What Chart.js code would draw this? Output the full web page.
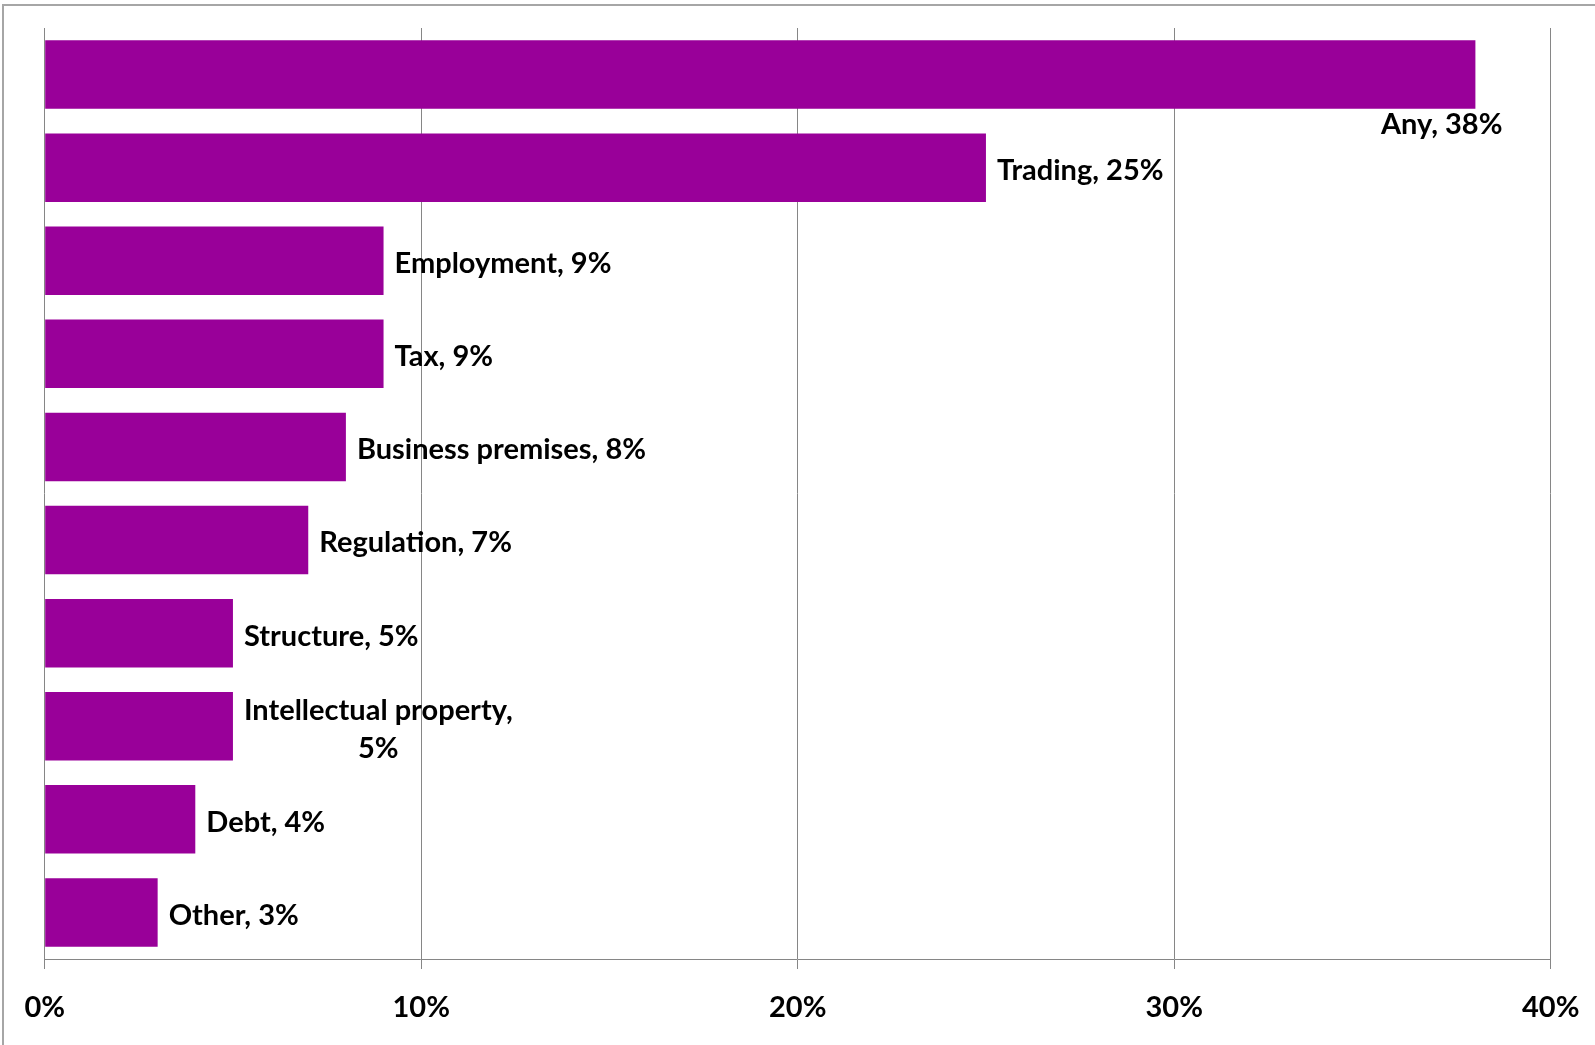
<!DOCTYPE html>
<html>
<head>
<meta charset="utf-8">
<script src="https://cdn.jsdelivr.net/npm/chart.js@4.4.0/dist/chart.umd.min.js"></script>
<style>
  html, body { margin: 0; padding: 0; background: #fff; overflow: hidden; }
  #frame { position: absolute; left: 2px; top: 4px; width: 1700px; height: 1200px; border: 2px solid #a6a6a6; box-sizing: border-box; }
  #wrap { position: absolute; left: 0; top: 0; width: 1595px; height: 1045px; }
</style>
</head>
<body>
<div id="frame"></div>
<div id="wrap"><canvas id="c" width="1595" height="1045"></canvas></div>
<script>
const categories = ['Any', 'Trading', 'Employment', 'Tax', 'Business premises', 'Regulation', 'Structure', 'Intellectual property', 'Debt', 'Other'];
const values = [38, 25, 9, 9, 8, 7, 5, 5, 4, 3];
const xTicks = [0, 10, 20, 30, 40];

const FONT = 'Lato, "Open Sans", sans-serif';
const FSIZE = 29;

const labelPlugin = {
  id: 'barLabels',
  afterDatasetsDraw(chart) {
    const ctx = chart.ctx;
    const meta = chart.getDatasetMeta(0);
    const area = chart.chartArea;
    ctx.save();
    ctx.font = 'bold ' + FSIZE + 'px ' + FONT;
    ctx.fillStyle = '#000';
    ctx.textBaseline = 'middle';
    meta.data.forEach((bar, i) => {
      const text = categories[i] + ', ' + values[i] + '%';
      const w = ctx.measureText(text).width;
      const x0 = bar.x + 11;
      const yc = bar.y + 3;
      if (x0 + w > area.right) {
        // does not fit: put below the bar end
        ctx.textAlign = 'right';
        ctx.fillText(text, bar.x + 27, bar.y + bar.height / 2 + 16);
      } else if (w > 300) {
        const l1 = categories[i] + ',';
        const l2 = values[i] + '%';
        const w1 = ctx.measureText(l1).width;
        ctx.textAlign = 'center';
        ctx.fillText(l1, x0 + w1 / 2, yc - 19);
        ctx.fillText(l2, x0 + w1 / 2, yc + 19);
      } else {
        ctx.textAlign = 'left';
        ctx.fillText(text, x0, yc);
      }
    });
    ctx.restore();
  }
};

new Chart(document.getElementById('c'), {
  type: 'bar',
  data: {
    labels: categories,
    datasets: [{
      data: values,
      backgroundColor: '#990099',
      borderWidth: 0,
      categoryPercentage: 1,
      barPercentage: 0.736
    }]
  },
  options: {
    indexAxis: 'y',
    responsive: false,
    animation: false,
    layout: { padding: { left: 44.7, top: 28, right: 44.3, bottom: 0 } },
    plugins: { legend: { display: false }, tooltip: { enabled: false } },
    scales: {
      x: {
        min: 0, max: 40,
        afterBuildTicks(scale) { scale.ticks = xTicks.map(v => ({ value: v })); },
        afterFit(scale) { scale.height = 86; scale.paddingLeft = 0; scale.paddingRight = 0; },
        grid: { color: '#868686', lineWidth: 1, tickLength: 10, drawTicks: true },
        border: { display: true, color: '#868686', width: 1 },
        ticks: {
          padding: 21,
          color: '#000',
          font: { family: FONT, size: FSIZE, weight: 'bold' },
          callback: v => v + '%'
        }
      },
      y: {
        afterFit(scale) { scale.width = 0; },
        grid: { display: false },
        border: { display: false },
        ticks: { display: false }
      }
    }
  },
  plugins: [labelPlugin]
});
</script>
</body>
</html>
